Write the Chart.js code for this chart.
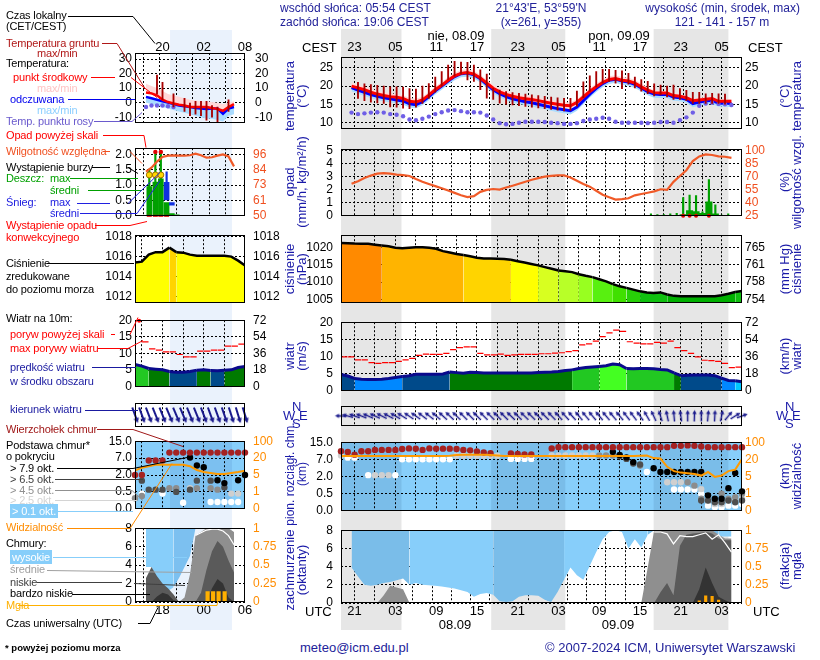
<!DOCTYPE html>
<html>
<head>
<meta charset="utf-8">
<title>Meteorogram ICM</title>
<script src="https://cdn.jsdelivr.net/npm/chart.js@4.4.1/dist/chart.umd.min.js"></script>
<style>
  body { margin:0; width:820px; height:660px; position:relative; overflow:hidden; background:#fff;
         font-family:"Liberation Sans", Arial, sans-serif; }
  canvas { position:absolute; }
  .t { position:absolute; white-space:nowrap; font-size:12px; line-height:14px; }
  .lg { font-size:11px; letter-spacing:-0.15px; }
  .rot { position:absolute; white-space:nowrap; font-size:13px; line-height:12px; color:#1a1aa8;
         text-align:center; transform:translate(-50%,-50%) rotate(-90deg); }
  #lines { position:absolute; left:0; top:0; z-index:5; }
</style>
</head>
<body>
<script>
// ================= TIME AXIS =================
// hour index 0 = 19 UTC 07.09, 59 = 06 UTC 10.09
const hours = Array.from({length: 60}, (_, i) => i);
const gridHours = [2,5,8,11,14,17,20,23,26,29,32,35,38,41,44,47,50,53,56];
const labelHours = [2,8,14,20,26,32,38,44,50,56];
const nights = [[0, 8.9], [22.1, 33], [46, 57]];

// mini legend charts: hour index 0 = 14 UTC
const miniHours = Array.from({length: 17}, (_, i) => i);
const miniGrid = [1,4,7,10,13];
const miniLabels = [4,10,16];
const miniNights = [[5.1, 14.1]];

// ================= TEMPERATURE =================
const tempMid = [20.0,19.5,19.0,18.3,17.8,17.4,17.1,16.9,16.6,15.8,
  15.6,16.2,17.5,19.0,20.2,21.6,22.8,23.5,23.7,23.3,
  22.2,20.8,19.4,18.4,17.7,17.2,16.8,16.5,16.3,16.0,
  15.6,15.3,15.0,14.7,14.6,15.5,17.0,18.5,19.8,21.0,
  21.8,22.1,21.6,21.4,20.8,19.8,18.9,18.2,18.1,18.1,
  17.4,17.2,16.8,16.0,16.2,16.4,16.6,15.8,15.8,15.8];
const tempHi = [21.0,20.4,19.9,19.2,18.7,18.3,18.0,17.8,17.5,16.7,
  16.5,17.1,18.4,19.9,21.1,22.5,23.7,24.4,24.6,24.2,
  23.1,21.7,20.3,19.3,18.6,18.1,17.7,17.4,17.2,16.9,
  16.5,16.2,15.9,15.6,15.5,16.4,17.9,19.4,20.7,21.9,
  22.7,23.0,22.5,22.3,21.7,20.7,19.6,18.8,18.7,18.6,
  17.9,17.7,17.3,16.6,16.8,17.0,17.1,16.3,16.3,16.3];
const tempLo = [19.2,18.7,18.2,17.5,17.0,16.6,16.3,16.1,15.8,15.0,
  14.8,15.4,16.7,18.2,19.4,20.8,22.0,22.7,22.9,22.5,
  21.4,20.0,18.6,17.6,16.9,16.4,16.0,15.7,15.5,15.2,
  14.8,14.5,14.2,13.9,13.8,14.7,16.2,17.7,19.0,20.2,
  21.0,21.3,20.8,20.6,20.0,19.0,18.1,17.4,17.3,17.3,
  16.6,16.4,16.0,15.2,15.4,15.6,15.8,15.0,15.0,15.0];
const tempFeel = [19.6,18.9,18.3,17.7,17.2,16.8,16.5,16.2,15.9,15.1,
  14.9,15.7,17.1,18.7,20.0,21.4,22.6,23.4,23.6,23.1,
  22.0,20.5,19.0,17.9,17.1,16.5,16.1,15.7,15.4,15.0,
  14.6,14.2,13.8,13.5,13.2,14.2,16.0,17.8,19.4,20.7,
  21.6,21.9,21.4,21.1,20.5,19.5,18.5,17.8,17.7,17.7,
  17.0,16.8,16.4,15.2,15.6,15.9,16.1,15.3,15.3,15.2];
const feelLo = [18.6,17.9,17.3,16.7,16.2,15.8,15.5,15.2,14.9,14.1,
  13.9,14.7,16.1,17.7,19.0,20.4,21.6,22.4,22.6,22.1,
  21.0,19.5,18.0,16.9,16.1,15.5,15.1,14.7,14.4,14.0,
  13.6,13.2,12.8,12.5,12.2,13.2,15.0,16.8,18.4,19.7,
  20.6,20.9,20.4,20.1,19.5,18.5,17.5,16.8,16.7,16.7,
  16.0,15.8,15.4,14.2,14.6,14.9,15.1,14.3,14.3,14.2];
const dewPoint = [12.7,12.3,12.5,12.7,12.8,12.7,12.3,12.1,11.7,10.8,
  10.6,11.0,11.6,12.3,12.8,13.3,13.4,13.1,12.8,12.8,
  12.7,11.9,10.8,9.8,9.5,9.6,9.9,10.2,10.2,10.2,
  10.1,9.9,9.8,9.6,9.6,9.8,10.4,10.8,11.0,11.3,
  11.0,10.2,9.9,9.9,9.9,9.9,9.8,9.9,10.1,10.1,
  9.9,10.6,11.4,12.7,14.6,15.2,15.4,15.1,15.0,14.8];
const groundMax = [null,21.0,20.6,20.4,20.2,20.0,19.8,19.8,19.7,19.3,
  19.2,20.0,20.7,22.5,24.0,25.8,26.8,26.6,26.5,25.8,
  24.5,23.3,19.4,18.9,18.5,18.2,18.0,17.8,17.6,17.4,
  17.2,17.0,16.8,16.6,16.6,18.6,21.2,22.8,24.0,24.6,
  24.6,24.3,24.2,23.5,22.5,21.8,21.3,20.6,20.3,20.0,
  20.3,19.3,18.8,18.3,18.3,17.9,18.0,17.9,17.8,null];
const groundMin = [null,16.6,16.0,15.6,15.4,15.2,14.3,14.2,13.9,13.8,
  14.2,15.2,16.6,18.3,20.0,21.8,22.7,23.3,21.7,21.3,
  19.0,16.7,16.3,15.3,15.0,14.8,14.6,14.4,14.2,14.0,
  13.8,13.6,13.4,13.2,13.3,14.5,16.8,18.5,19.8,20.8,
  21.3,20.8,19.3,20.5,19.5,18.6,17.9,17.3,17.6,17.0,
  16.3,16.3,16.0,15.2,15.2,15.2,15.2,15.2,15.0,null];

// ================= PRECIPITATION / HUMIDITY =================
const humidity = [62,65,68.7,71.5,73.7,74.3,73.8,72.7,72,71,
  67.5,64.3,61.8,59.3,56.8,54.3,51.5,48.7,46.7,47.7,
  52.7,55,56,55.3,57.7,59.8,62,64.3,66.7,68.5,
  70.3,71.2,71.7,71.7,69.3,65.5,61.7,58.7,54,49.3,
  46.5,43.7,44.3,45.3,48.7,50.2,51.7,53.3,55.7,55,
  64.3,71,77.7,88.3,93.7,96,95.3,93.7,93.3,92];
const rainX    = [46.5,47.5,48.5,49.5,50.5,51.5,52.5,53.5,54.5,55.5,56.5,57.5,58.5];
const rainMean = [0,0,0,0,0.02,0.1,0.4,0.33,0.2,1.07,0.15,0.02,0];
const rainMax  = [0.15,0.1,0.1,0.15,0.2,1.4,1.6,1.55,0.3,2.8,0.85,0.05,0.15];
const convective = [0,0,0,0,0,1,1,1,0,1,0,0,0];

// ================= PRESSURE =================
const pressure = [1021.25,1021.2,1021.1,1021.05,1021.0,1020.75,1020.5,1020.3,1019.9,1019.75,
  1019.9,1020.0,1020.0,1019.9,1019.6,1018.9,1018.5,1018.1,1017.8,1017.4,
  1017.0,1016.8,1016.8,1016.7,1016.6,1016.4,1016.0,1015.6,1015.2,1014.8,
  1014.3,1013.8,1013.3,1013.1,1012.85,1012.25,1011.8,1011.4,1010.8,1010.2,
  1009.4,1008.75,1008.3,1007.8,1007.3,1007.0,1006.8,1007.0,1006.4,1006.0,
  1005.9,1005.9,1005.9,1005.9,1005.9,1005.9,1006.2,1006.6,1007.1,1007.4];

// ================= WIND =================
const windMean = [4.8,4.3,3.6,3.4,3.3,3.3,3.4,3.6,3.9,4.2,
  4.4,4.8,4.8,4.8,4.8,4.9,5.5,5.3,5.1,5.4,
  5.3,5.2,5.2,5.2,5.2,5.2,5.2,5.2,5.2,5.3,
  5.4,5.5,5.65,5.9,6.1,6.5,6.8,6.95,7.1,7.3,
  7.8,7.6,6.5,6.4,6.5,6.5,6.4,6.2,6.1,5.2,
  4.4,4.5,4.6,4.6,4.6,4.4,3.7,3.0,2.9,2.6];
const windGust = [9.9,9.9,9.0,9.0,8.2,8.0,8.2,8.2,8.6,9.0,
  9.45,10.3,10.7,10.6,10.6,10.9,12.0,12.6,12.8,12.8,
  10.9,10.5,10.5,10.7,10.3,10.5,10.6,10.6,10.6,10.8,
  10.8,11.0,11.1,11.4,11.7,13.4,13.7,14.5,15.8,16.9,
  17.7,17.3,14.3,13.9,13.7,13.7,14.1,13.9,14.5,12.6,
  11.7,10.9,9.9,8.9,8.8,8.6,8.0,6.75,6.9,null];
// direction the arrow points, degrees clockwise from north
const windDir = [-88,-75,-70,-68,-66,-65,-63,-62,-60,-58,
  -56,-55,-53,-52,-50,-48,-47,-46,-45,-45,
  -45,-45,-45,-45,-45,-46,-46,-46,-45,-45,
  -45,-44,-43,-42,-42,-40,-40,-40,-40,-40,
  -40,-40,-38,-37,-35,-30,-25,-18,-12,-5,
  -8,0,2,0,5,3,12,40,58,70];

// ================= CLOUD BASE / VISIBILITY (km) =================
const baseStops = [0, 0.5, 2, 7, 15];
const visStops = [0, 1, 5, 20, 100];
const cbTop = [10.8,10.4,9.2,10.8,10.8,11.4,11.4,11.4,11.4,11.8,
  12.1,12.0,11.4,12.1,12.0,12.0,12.0,11.8,11.4,11.2,
  10.7,10.2,9.9,null,null,9.8,9.5,9.3,9.3,null,
  null,12.1,12.7,12.7,12.7,12.7,12.7,12.7,12.7,12.7,
  12.7,12.7,12.7,12.7,12.7,12.7,12.7,12.7,12.7,13.3,
  13.3,13.5,13.3,13.0,12.7,12.7,12.7,12.7,12.7,12.7];
const cbWhite = [null,7.8,7.8,null,2.4,null,null,null,2.4,7.0,
  7.0,7.0,7.0,7.0,7.0,7.0,7.0,null,null,null,
  null,null,null,null,null,7.2,7.2,7.2,7.2,null,
  null,null,null,null,null,null,null,null,null,null,
  null,null,null,null,null,3.3,null,null,null,0.86,
  0.86,0.86,0.86,0.5,0.15,0.1,0.1,0.15,0.15,0.2];
const cbLight = [8.8,null,null,null,null,2.4,2.4,2.4,null,null,
  null,null,null,null,null,null,null,8.7,8.7,8.7,
  8.7,8.7,8.7,8.7,null,null,null,null,null,null,
  null,8.8,8.8,8.8,8.8,8.8,8.8,8.8,null,null,
  null,null,null,null,null,null,null,null,1.5,1.5,
  1.5,null,null,0.9,0.3,0.2,0.2,0.3,0.3,0.35];
const cbGrey = [null,null,null,null,null,null,null,null,null,null,
  null,null,null,null,null,null,null,null,null,null,
  null,null,null,null,null,null,null,null,null,null,
  null,null,null,null,null,null,null,null,8.8,8.8,
  8.8,null,null,null,5.2,null,null,null,null,null,
  null,1.5,1.2,0.35,null,null,0.5,0.35,0.4,0.5];
const cbDark = [null,null,null,null,null,null,null,null,null,null,
  null,null,null,null,null,null,null,null,null,null,
  null,null,null,null,null,null,null,null,null,null,
  null,null,null,null,null,null,null,null,null,null,
  null,8.5,7.2,5.8,5.5,null,null,null,null,null,
  null,null,null,0.3,0.3,0.25,0.25,0.3,0.25,0.3];
const cbBlack = [null,null,null,null,null,null,null,null,null,null,
  null,null,null,null,null,null,null,null,null,null,
  null,null,null,null,null,null,null,null,null,null,
  null,null,null,null,null,null,null,null,null,null,
  10.5,9.0,7.9,6.2,null,null,4.4,3.3,3.3,3.3,
  3.3,3.3,3.3,3.3,0.45,0.35,0.35,0.98,3.0,0.7];
const visibility = [36,36,36,36,36,36,36,36,36,36,
  36,36,36,36,36,36,37,40,41,41,
  41,41,40,38,36,36,36,36,36,36,
  36,36,36,36,36,36,36,36,36,36,
  36,36,36,36,37,38,26,24,13.5,9.7,
  8.4,7.8,7.1,5.8,8.9,4.9,5.8,9.7,11,21];

// ================= CLOUD COVER (octas) / FOG =================
const highEdge = [3.9,2.9,2.0,1.9,2.0,2.2,2.3,2.5,2.7,2.0,
  2.2,2.0,1.95,1.9,1.8,1.7,1.6,1.4,1.2,0.7,
  1.0,1.1,0.9,0.2,0.1,0.2,0.7,0.85,0.85,0.8,
  0.35,0.1,1.2,2.55,3.9,3.06,2.55,4.1,5.6,7.0,
  7.8,8,7.8,6.0,7.0,6.1,7.5,8,8,8,
  8,8,8,8,8,7.5,7.3,7.3,7.3,7.3];
const midCloud = [0,0,0,0,0,0.85,1.9,1.7,1.5,0,
  0,0,0,0,0,0,0,0,0,0,
  0,0,0,0,0,0,0,0,0,0,
  0,0,0,0,0,0,0,0,0,0,
  0,0,0,0,0,0,3.9,8,8,8,
  8,8,8,8,8,8,8,7.5,7.1,7.1];
const lowCloud = [0,0,0,0,0,0,0,0,0,0,
  0,0,0,0,0,0,0,0,0,0,
  0,0,0,0,0,0,0,0,0,0,
  0,0,0,0,0,0,0,0,0,0,
  0,0,0,0,0,0,0,0,1.2,2.2,
  0.85,6.3,7.5,7.65,7.7,7.8,7.65,7.1,6.9,6.9];
const veryLowCloud = [0,0,0,0,0,0,0,0,0,0,
  0,0,0,0,0,0,0,0,0,0,
  0,0,0,0,0,0,0,0,0,0,
  0,0,0,0,0,0,0,0,0,0,
  0,0,0,0,0,0,0,0,0,0,
  0,0,0,0,1.5,3.9,2.2,0.7,0.3,0];
const cloudTotal = [null,null,null,null,null,null,null,null,null,null,
  null,null,null,null,null,null,null,null,null,null,
  null,null,null,null,null,null,null,null,null,null,
  null,null,null,null,null,null,null,null,null,null,
  null,null,null,null,null,null,null,7.8,7.8,7.6,
  6.5,7.4,7.3,7.3,7.5,7.7,7.0,7.5,6.6,5.6];
const fogX = [54,55,56,57];
const fog = [0.03,0.1,0.09,0.04];

// ================= MINI LEGEND DATA =================
const miniTemp   = [7,6.4,5,2,0.4,-0.6,-1.5,-2,-3,-3,-3,-3,-3.6,-4.4,-5.6,-3,-1];
const miniTempHi = [13,11.5,10,8,6,5,4,3,2,1.5,1,1,0.5,0,-1,0,1];
const miniTempLo = [6,5.5,4,1.5,0,-1,-2,-2.5,-3.5,-3.5,-3.5,-3.5,-4,-5,-6,-3.5,-1.5];
const miniFeel   = [4,3,2,1,0,-1,-2,-2.4,-3,-3.6,-4,-4.4,-4,-4,-7.6,-4,-3];
const miniFeelLo = [0,-1,-2,-3,-4,-5,-6,-7,-8,-9,-10,-11,-11,-12,-13,-9,-8];
const miniDew    = [-3,-2,-2,-2,-2.5,-3,null,null,null,null,null,null,null,null,null,null,null];
const miniGroundMax = [null,null,19,14,null,6,null,3,0,1,1,1,-2,-3,null,2,null];
const miniGroundMin = [null,null,6,2,null,-3,null,-6,-9,-8,-9,-12,-10,-13,null,-6,null];
const miniHum = [83,86,90.6,94,95,95.3,95,95,95.3,96.5,95.3,93.5,93.8,95,96,94.5,87];
const miniRainX = [0.6,1.7,2.7,3.75,4.7,5.6];
const miniRainMean = [0.95,1.1,1.2,0.43,0.07,0.03];
const miniRainMaxX = [0.6,1.7,2.7];
const miniRainMax = [1.52,2.08,2.08];
const miniStormY = 1.33;
const miniSnowX = [3.75,4.7];
const miniSnowLo = [0.52,0.35];
const miniSnowHi = [1.09,0.43];
const miniPres = [1015.4,1015.5,1016.2,1016.45,1016.45,1016.9,1016.45,1016.4,1016.2,1016.1,1016.1,1016.1,1016.1,1016.1,1016,1015.6,1015.1];
const miniWind = [6.7,6.2,5.5,5.3,5.1,4.6,4.4,4.4,4.6,5.0,5.1,4.9,4.8,5.0,5.1,5.8,6.1];
const miniGust = [null,13.5,11.4,11.0,10.5,10.5,9.7,9.0,9.0,10.7,10.7,11.0,11.0,12.2,12.2,12.8,null];
const miniDir = [160,160,159,158,158,157,157,157,158,158,159,160,160,161,162,163,163];
const miniCbTop   = [2.0,2.0,6.3,6.3,6.3,9.6,9.6,9.6,9.6,9.6,9.6,9.6,9.6,9.6,9.6,9.6,9.6];
const miniCbBlack = [null,null,null,null,null,null,null,null,7.3,4.8,4.3,null,1.53,1.28,null,1.53,2.0];
const miniCbDark  = [null,1.5,0.7,0.7,0.7,null,0.5,null,0.7,1.5,null,1.5,null,0.9,null,null,null];
const miniCbGrey  = [0.31,0.38,null,null,null,0.83,0.83,null,null,0.83,null,0.83,0.7,null,null,null,null];
const miniCbLight = [null,null,null,null,null,null,null,null,0.83,null,null,null,null,null,0.45,0.45,null];
const miniCbWhite = [null,0.45,null,null,0.45,null,null,0.18,null,null,null,0.2,0.2,0.2,0.2,0.2,null];
const miniVis = [8.9,11.5,12.8,14.1,14.1,14.1,14.1,14.1,12.8,9.4,7.6,6.8,5.8,5.8,6.8,7.6,8.9];
const miniHigh = [3.8,3.8,2.5,1.8,1.2,1.6,2.6,3.8,5,8,8,8,8,8,8,8,8];
const miniMid  = [0,0,0,0,0,0,0,0.5,3,7.2,7.6,8,8,8,8,8,7.6];
const miniLow  = [2.6,3.8,2.8,2.0,1.5,0.8,0,0,0,0,1,3.5,5.5,6.6,6.0,4.5,3.2];
const miniVeryLow = [0,0,0.6,1.0,0.8,0.2,0,0,0,0,0,0,1.5,2.5,2,0.5,0];
const miniTotal = [null,null,null,null,null,null,null,null,null,7.2,7.5,7.8,7.9,7.9,7.7,7.2,6.2];
const miniFogX = [11.2,12.2,13.2,14.3];
const miniFog = [0.14,0.14,0.14,0.14];

// ================= HELPERS =================
Chart.defaults.font.family = '"Liberation Sans", Arial, sans-serif';
Chart.defaults.font.size = 12;
Chart.defaults.color = '#000';

const pad2 = n => String(n).padStart(2, '0');
const MAIN = { x: 280, w: 530, lw: 61, rw: 68, min: 0, max: 59, grid: gridHours,
  fmt: { top: v => pad2((v + 21) % 24), bottom: v => pad2((v + 19) % 24) } };
const MINI = { x: 75, w: 205, lw: 60, rw: 35, min: 0, max: 16, grid: miniGrid,
  fmt: { top: v => pad2((v + 16) % 24), bottom: v => pad2((v + 14) % 24) } };
const LABEL_BOX = 20;

const pts = (xs, ys, f) => xs.map((x, i) => ({ x, y: ys[i] == null ? null : (f ? f(ys[i]) : ys[i]) }));
const isNight = (x, ranges) => ranges.some(([s, e]) => x >= s && x < e);
function toPos(v, stops) {
  for (let i = 1; i < stops.length; i++)
    if (v <= stops[i]) return i - 1 + (v - stops[i - 1]) / (stops[i] - stops[i - 1]);
  return stops.length - 1;
}
function presColor(p) {
  if (p >= 1020.6) return '#ff8a00';
  if (p >= 1018) return '#ffb400';
  if (p >= 1016.5) return '#ffd400';
  if (p >= 1015) return '#ffff00';
  if (p >= 1013.5) return '#d8ff20';
  if (p >= 1012.5) return '#b8ff28';
  if (p >= 1011.5) return '#98ff20';
  if (p >= 1010) return '#58f010';
  if (p >= 1008.5) return '#40e000';
  if (p >= 1007.5) return '#28d008';
  if (p >= 1006.8) return '#10c010';
  return '#00b000';
}
function windColor(v) {
  if (v < 3) return '#00c8ff';
  if (v < 4) return '#0088ff';
  if (v < 5) return '#004a8a';
  if (v < 6) return '#007a00';
  if (v < 7) return '#22c822';
  return '#44ff22';
}

// ================= PLUGINS =================
const bandsPlugin = {
  id: 'bands',
  beforeDraw(chart, args, opts) {
    if (!opts || (!opts.ranges && !opts.day)) return;
    const { ctx, chartArea: a, scales: { x } } = chart;
    ctx.save();
    if (opts.day) { ctx.fillStyle = opts.day; ctx.fillRect(a.left, a.top, a.width, a.height); }
    if (opts.ranges) {
      ctx.fillStyle = opts.night;
      opts.ranges.forEach(([s, e]) => {
        const x0 = x.getPixelForValue(s), x1 = x.getPixelForValue(e);
        ctx.fillRect(x0, a.top, x1 - x0, a.height);
      });
    }
    ctx.restore();
  }
};
const boxPlugin = {
  id: 'box',
  afterDraw(chart) {
    const { ctx, chartArea: a } = chart;
    ctx.save();
    ctx.strokeStyle = '#000'; ctx.lineWidth = 1;
    ctx.strokeRect(Math.round(a.left) + 0.5, Math.round(a.top) + 0.5, Math.round(a.width) - 1, Math.round(a.height) - 1);
    ctx.restore();
  }
};
Chart.register(bandsPlugin, boxPlugin);

function yAxis(c, pos, w, fs) {
  return {
    type: 'linear', position: pos, min: c.min, max: c.max, z: 1,
    afterBuildTicks: s => { s.ticks = c.ticks.map(v => ({ value: v })); },
    afterFit: s => { s.width = w; },
    ticks: { padding: c.pad ?? (pos === 'left' ? 8 : 3), color: c.color || '#000', font: { size: fs },
             autoSkip: false, callback: c.fmt || (v => String(v)) },
    grid: { display: pos === 'left' && c.grid !== false, color: '#000', drawTicks: false },
    border: { display: false, dash: [2, 2] }
  };
}
function timeAxis(pos, g, vals, pad, fs) {
  return {
    type: 'linear', position: pos, min: g.min, max: g.max,
    afterBuildTicks: s => { s.ticks = vals.map(v => ({ value: v })); },
    afterFit: s => { s.height = LABEL_BOX; },
    ticks: { padding: pad, autoSkip: false, maxRotation: 0, font: { size: fs }, callback: v => g.fmt[pos](v) },
    grid: { display: false, drawTicks: false }, border: { display: false }
  };
}
function panel(o) {
  const padT = o.padT ?? 10, padB = o.padB ?? 10, g = o.g, fs = o.fs || 12;
  const cv = document.createElement('canvas');
  cv.width = g.w; cv.height = o.h + padT + padB;
  cv.style.left = g.x + 'px'; cv.style.top = (o.top - padT) + 'px';
  document.body.appendChild(cv);
  const scales = {
    x: { type: 'linear', min: g.min, max: g.max, z: 1,
         afterBuildTicks: s => { s.ticks = g.grid.map(v => ({ value: v })); },
         afterFit: s => { s.height = 0; },
         ticks: { display: false },
         grid: { color: '#000', drawTicks: false },
         border: { display: false, dash: [2, 2] } },
    y: yAxis(o.y, 'left', g.lw, fs),
    y2: yAxis(o.y2 || { min: o.y.min, max: o.y.max, ticks: [o.y.min], fmt: () => '' }, 'right', g.rw, fs)
  };
  if (o.topLabels) scales.xt = timeAxis('top', g, o.topLabels, o.topPad, 13);
  if (o.bottomLabels) scales.xb = timeAxis('bottom', g, o.bottomLabels, o.botPad, 13);
  const layTop = padT - (o.topLabels ? LABEL_BOX : 0);
  const layBottom = padB - (o.bottomLabels ? LABEL_BOX : 0);
  return new Chart(cv, {
    type: 'line',
    data: { datasets: o.datasets },
    options: {
      responsive: false, animation: false, events: [],
      layout: { padding: { top: layTop, bottom: layBottom, left: 0, right: 0 } },
      scales,
      plugins: { legend: { display: false }, tooltip: { enabled: false }, bands: o.bands || {} },
      elements: { point: { radius: 0 }, line: { tension: 0 } }
    }
  });
}
function bgChart(g, top, h, ranges, color) {
  const cv = document.createElement('canvas');
  cv.width = g.w; cv.height = h;
  cv.style.left = g.x + 'px'; cv.style.top = top + 'px';
  document.body.appendChild(cv);
  new Chart(cv, {
    type: 'line', data: { datasets: [{ data: [] }] },
    options: { responsive: false, animation: false, events: [],
      layout: { padding: { left: g.lw, right: g.rw, top: 0, bottom: 0 } },
      scales: { x: { type: 'linear', display: false, min: g.min, max: g.max }, y: { display: false } },
      plugins: { legend: { display: false }, tooltip: { enabled: false }, box: false,
                 bands: { ranges, night: color } } }
  });
}

// dataset builders
const lineDs = (xs, ys, color, width, extra) => Object.assign(
  { data: pts(xs, ys), borderColor: color, borderWidth: width, pointRadius: 0 }, extra || {});
const ghostDs = (xs, ys, extra) => Object.assign(
  { data: pts(xs, ys), borderColor: 'transparent', borderWidth: 0, pointRadius: 0 }, extra || {});
const dotDs = (xs, ys, color, r, f, order) => ({
  data: pts(xs, ys, f), showLine: false, pointRadius: r, pointBackgroundColor: color,
  pointBorderWidth: 0, order, clip: false });
const floatBars = (xs, lo, hi, color, extra) => Object.assign({
  type: 'bar', grouped: false, backgroundColor: color,
  data: xs.map((x, i) => ({ x, y: [lo[i], hi[i]] })).filter(d => d.y[0] != null) }, extra || {});

function arrowImg(len, color, lw, head) {
  const c = document.createElement('canvas');
  c.width = len + 2; c.height = len + 2;
  const g = c.getContext('2d'), cx = c.width / 2;
  g.strokeStyle = color; g.fillStyle = color; g.lineWidth = lw;
  g.beginPath(); g.moveTo(cx, c.height - 1); g.lineTo(cx, head); g.stroke();
  g.beginPath(); g.moveTo(cx, 0.5); g.lineTo(cx - head * 0.55, head + 0.5); g.lineTo(cx + head * 0.55, head + 0.5);
  g.closePath(); g.fill();
  return c;
}

// ================= BACKGROUND NIGHT BANDS =================
bgChart(MAIN, 29, 601, nights, '#e6e6e6');
bgChart(MINI, 30, 600, miniNights, '#eaf2fc');

// ================= MAIN PANELS =================
panel({ g: MAIN, top: 57, h: 79, padT: 57, padB: 8,
  y: { min: 8.25, max: 28, ticks: [10, 15, 20, 25] },
  y2: { min: 8.25, max: 28, ticks: [10, 15, 20, 25] },
  topLabels: labelHours, topPad: 2,
  datasets: [
    floatBars(hours, groundMin, groundMax, '#a80000', { barThickness: 1.2, order: 0 }),
    lineDs(hours, tempMid, '#ff0000', 3, { order: 1 }),
    dotDs(hours, dewPoint, '#6f5fe6', 2.2, null, 1.5),
    lineDs(hours, tempFeel, '#0000ff', 3, { fill: { target: 4 }, backgroundColor: '#aadcff', order: 2 }),
    ghostDs(hours, feelLo, { order: 3 }),
    ghostDs(hours, tempHi, { fill: { target: 6 }, backgroundColor: '#ffd8d8', order: 5 }),
    ghostDs(hours, tempLo, { order: 6 })
  ] });

panel({ g: MAIN, top: 144, h: 77,
  y: { min: 0, max: 5.133, ticks: [0, 1, 2, 3, 4, 5] },
  y2: { min: 25, max: 102, ticks: [25, 40, 55, 70, 85, 100], color: '#f05020' },
  datasets: [
    lineDs(hours, humidity, '#f05a28', 2.2, { yAxisID: 'y2', order: 0 }),
    { type: 'bar', data: pts(rainX, rainMean), backgroundColor: '#00a000', barPercentage: 1,
      categoryPercentage: 1, grouped: false, order: 2 },
    { type: 'bar', data: pts(rainX, rainMax), backgroundColor: '#00a000', barThickness: 1.5, grouped: false, order: 1 },
    dotDs(rainX.filter((x, i) => convective[i]), rainX.filter((x, i) => convective[i]).map(() => 0), '#e00000', 2, null, -1)
  ] });

panel({ g: MAIN, top: 230, h: 78,
  y: { min: 1004, max: 1023.5, ticks: [1005, 1010, 1015, 1020] },
  y2: { min: 1004, max: 1023.5, ticks: [1005, 1010, 1015, 1020], fmt: v => String(Math.round(v * 0.750062)) },
  datasets: [
    lineDs(hours, pressure, '#000', 2.5, { fill: 'start', backgroundColor: '#ffff00',
      segment: { backgroundColor: c => presColor(c.p0.parsed.y) } })
  ] });

panel({ g: MAIN, top: 317, h: 79,
  y: { min: 0, max: 20, ticks: [0, 5, 10, 15, 20] },
  y2: { min: 0, max: 72, ticks: [0, 18, 36, 54, 72] },
  datasets: [
    { data: pts(hours.map(h => h + 0.5), windGust), showLine: false, pointStyle: 'line', pointRadius: 3.1,
      pointBorderColor: '#ff0000', pointBorderWidth: 1.2, order: 0 },
    lineDs(hours, windMean, '#0a0a8c', 3, { fill: 'start', backgroundColor: '#004a8a', order: 1,
      segment: { backgroundColor: c => windColor(c.p0.parsed.y) } })
  ] });

const arrowMain = arrowImg(11, '#1a1a8c', 1.5, 4);
panel({ g: MAIN, top: 401, h: 30,
  y: { min: -1, max: 1, ticks: [0], fmt: () => '', grid: false },
  datasets: [
    { data: hours.map(h => ({ x: h, y: 0 })), showLine: false, pointStyle: arrowMain, pointRadius: 3,
      pointRotation: c => windDir[c.dataIndex], clip: false }
  ] });

const baseLabels = ['0.0', '0.5', '2.0', '7.0', '15.0'];
const visLabels = ['0', '1', '5', '20', '100'];
const kmPos = v => toPos(v, baseStops), visPos = v => toPos(v, visStops);
panel({ g: MAIN, top: 437, h: 79,
  y: { min: 0, max: 4, ticks: [0, 1, 2, 3, 4], fmt: v => baseLabels[v] },
  y2: { min: 0, max: 4, ticks: [0, 1, 2, 3, 4], fmt: v => visLabels[v], color: '#ff8c00' },
  bands: { day: '#87cefa', ranges: nights, night: '#7abde9' },
  datasets: [
    lineDs(hours, visibility.map(visPos), '#ff9a00', 2, { order: 0 }),
    dotDs(hours, cbTop, '#a52222', 3.2, kmPos, 1),
    dotDs(hours, cbBlack, '#000000', 3.2, kmPos, 2),
    dotDs(hours, cbDark, '#4e4e4e', 3.2, kmPos, 3),
    dotDs(hours, cbGrey, '#8c8c8c', 3.2, kmPos, 4),
    dotDs(hours, cbLight, '#cfcfcf', 3.2, kmPos, 5),
    dotDs(hours, cbWhite, '#ffffff', 3.2, kmPos, 6)
  ] });

panel({ g: MAIN, top: 525, h: 78, padB: 22,
  y: { min: 0, max: 8, ticks: [0, 2, 4, 6, 8] },
  y2: { min: 0, max: 1, ticks: [0, 0.25, 0.5, 0.75, 1], color: '#ff8c00' },
  bottomLabels: labelHours, botPad: 1,
  datasets: [
    lineDs(hours, cloudTotal, '#ffffff', 1.2, { order: 0 }),
    { type: 'bar', yAxisID: 'y2', data: pts(fogX, fog), backgroundColor: '#ffa500', barThickness: 2.5, grouped: false, order: 1 },
    ghostDs(hours, veryLowCloud, { fill: 'origin', backgroundColor: '#333333', order: 2 }),
    ghostDs(hours, lowCloud, { fill: 'origin', backgroundColor: '#5a5a5a', order: 3 }),
    ghostDs(hours, midCloud, { fill: 'origin', backgroundColor: '#8f8f8f', order: 4 }),
    ghostDs(hours, highEdge, { fill: 'end', backgroundColor: '#87cefa', order: 5,
      segment: { backgroundColor: c => isNight((c.p0.parsed.x + c.p1.parsed.x) / 2, nights) ? '#7abde9' : '#87cefa' } })
  ] });

// ================= MINI LEGEND PANELS =================
panel({ g: MINI, top: 53, h: 81, padT: 53, padB: 6,
  y: { min: -13.85, max: 34.15, ticks: [-10, 0, 10, 20, 30], pad: 3 },
  y2: { min: -13.85, max: 34.15, ticks: [-10, 0, 10, 20, 30], pad: 10 },
  topLabels: miniLabels, topPad: -2,
  datasets: [
    floatBars(miniHours, miniGroundMin, miniGroundMax, '#a80000', { barThickness: 1.2, order: 0 }),
    lineDs(miniHours, miniTemp, '#ff0000', 2.5, { order: 1 }),
    dotDs(miniHours, miniDew, '#6f5fe6', 2.2, null, 1.5),
    lineDs(miniHours, miniFeel, '#0000ff', 2.5, { fill: { target: 4 }, backgroundColor: '#aadcff', order: 2 }),
    ghostDs(miniHours, miniFeelLo, { order: 3 }),
    ghostDs(miniHours, miniTempHi, { fill: { target: 6 }, backgroundColor: '#ffd8d8', order: 5 }),
    ghostDs(miniHours, miniTempLo, { order: 6 })
  ] });

panel({ g: MINI, top: 143, h: 78,
  y: { min: 0, max: 2.2, ticks: [0, 0.5, 1, 1.5, 2], fmt: v => v.toFixed(1), pad: 3 },
  y2: { min: 50, max: 100.6, ticks: [50, 61.5, 73, 84.5, 96], fmt: v => String(Math.floor(v)), color: '#f05020', pad: 8 },
  datasets: [
    lineDs(miniHours, miniHum, '#f05a28', 2.2, { yAxisID: 'y2', order: 0 }),
    { data: pts(miniRainMaxX, miniRainMaxX.map(() => miniStormY)), showLine: false, pointRadius: 3,
      pointBackgroundColor: '#ffd700', pointBorderColor: '#a07000', pointBorderWidth: 1, order: -1 },
    dotDs(miniRainMaxX.slice(1), miniRainMax.slice(1), '#e00000', 2.2, null, -2),
    floatBars(miniSnowX, miniSnowLo, miniSnowHi, '#1030e0', { barPercentage: 1, categoryPercentage: 1, order: 1 }),
    floatBars([3.75], [1.09], [1.43], '#1030e0', { barThickness: 1.5, order: 1 }),
    { type: 'bar', data: pts(miniRainX, miniRainMean), backgroundColor: '#00a000', barPercentage: 1,
      categoryPercentage: 1, grouped: false, order: 3 },
    { type: 'bar', data: pts(miniRainMaxX, miniRainMax), backgroundColor: '#00a000', barThickness: 1.5, grouped: false, order: 2 },
    { data: miniRainX.slice(0, 4).map(x => ({ x, y: 0 })), showLine: false, pointStyle: 'line', pointRadius: 2.5,
      pointBorderColor: '#e00000', pointBorderWidth: 2, order: -3, clip: false }
  ] });

panel({ g: MINI, top: 230, h: 78,
  y: { min: 1011.37, max: 1018.15, ticks: [1012, 1014, 1016, 1018], pad: 3 },
  y2: { min: 1011.37, max: 1018.15, ticks: [1012, 1014, 1016, 1018], pad: 8 },
  datasets: [
    lineDs(miniHours, miniPres, '#000', 2.5, { fill: 'start', backgroundColor: '#ffff00',
      segment: { backgroundColor: c => presColor(c.p0.parsed.y) } })
  ] });

panel({ g: MINI, top: 315, h: 77,
  y: { min: 0, max: 20, ticks: [0, 5, 10, 15, 20], pad: 3 },
  y2: { min: 0, max: 72, ticks: [0, 18, 36, 54, 72], pad: 8 },
  datasets: [
    { data: pts(miniHours.map(h => h + 0.5), miniGust), showLine: false, pointStyle: 'line', pointRadius: 3.2,
      pointBorderColor: '#ff0000', pointBorderWidth: 1.2, order: 0 },
    dotDs([0.6], [19.8], '#ff0000', 2, null, -1),
    lineDs(miniHours, miniWind, '#0a0a8c', 3, { fill: 'start', backgroundColor: '#007a00', order: 1,
      segment: { backgroundColor: c => windColor(c.p0.parsed.y) } })
  ] });

const arrowMini = arrowImg(16, '#1a1a8c', 2, 5);
panel({ g: MINI, top: 398, h: 34,
  y: { min: -1, max: 1, ticks: [0], fmt: () => '', grid: false },
  datasets: [
    { data: miniHours.map(h => ({ x: h, y: 0 })), showLine: false, pointStyle: arrowMini, pointRadius: 3,
      pointRotation: c => miniDir[c.dataIndex], clip: false }
  ] });

panel({ g: MINI, top: 436, h: 78,
  y: { min: 0, max: 4, ticks: [0, 1, 2, 3, 4], fmt: v => baseLabels[v], pad: 3 },
  y2: { min: 0, max: 4, ticks: [0, 1, 2, 3, 4], fmt: v => visLabels[v], color: '#ff8c00', pad: 8 },
  bands: { day: '#87cefa', ranges: miniNights, night: '#7cc0f0' },
  datasets: [
    lineDs(miniHours, miniVis.map(visPos), '#ff9a00', 2, { order: 0 }),
    dotDs(miniHours, miniCbTop, '#a52222', 3.2, kmPos, 1),
    dotDs(miniHours, miniCbBlack, '#000000', 3.2, kmPos, 2),
    dotDs(miniHours, miniCbDark, '#4e4e4e', 3.2, kmPos, 3),
    dotDs(miniHours, miniCbGrey, '#8c8c8c', 3.2, kmPos, 4),
    dotDs(miniHours, miniCbLight, '#cfcfcf', 3.2, kmPos, 5),
    dotDs(miniHours, miniCbWhite, '#ffffff', 3.2, kmPos, 6)
  ] });

panel({ g: MINI, top: 523, h: 79, padB: 22,
  y: { min: 0, max: 8, ticks: [0, 2, 4, 6, 8], pad: 3 },
  y2: { min: 0, max: 1, ticks: [0, 0.25, 0.5, 0.75, 1], color: '#ff8c00', pad: 8 },
  bottomLabels: miniLabels, botPad: 1,
  datasets: [
    lineDs(miniHours, miniTotal, '#ffffff', 1.2, { order: 0 }),
    { type: 'bar', yAxisID: 'y2', data: pts(miniFogX, miniFog), backgroundColor: '#ffb000', barThickness: 3.5, grouped: false, order: 1 },
    ghostDs(miniHours, miniVeryLow, { fill: 'origin', backgroundColor: '#333333', order: 2 }),
    ghostDs(miniHours, miniLow, { fill: 'origin', backgroundColor: '#5a5a5a', order: 3 }),
    ghostDs(miniHours, miniMid, { fill: 'origin', backgroundColor: '#8f8f8f', order: 4 }),
    ghostDs(miniHours, miniHigh, { fill: 'end', backgroundColor: '#87cefa', order: 5,
      segment: { backgroundColor: c => isNight((c.p0.parsed.x + c.p1.parsed.x) / 2, miniNights) ? '#7cc0f0' : '#87cefa' } })
  ] });

// ================= TEXTS =================
function txt(x, yc, s, color, cls, extra) {
  const d = document.createElement('div');
  d.className = 't' + (cls ? ' ' + cls : '');
  d.style.left = x + 'px'; d.style.top = (yc - 7) + 'px';
  d.style.color = color || '#000';
  if (extra) Object.assign(d.style, extra);
  d.textContent = s;
  document.body.appendChild(d);
  return d;
}
function rot(cx, cy, lines, extra) {
  const d = document.createElement('div');
  d.className = 'rot';
  d.style.left = cx + 'px'; d.style.top = cy + 'px';
  if (extra) Object.assign(d.style, extra);
  lines.forEach((l, i) => { if (i) d.appendChild(document.createElement('br')); d.appendChild(document.createTextNode(l)); });
  document.body.appendChild(d);
}
const BLUE = '#22229a';
const center = { transform: 'translateX(-50%)' };
const right = { transform: 'translateX(-100%)' };

txt(280, 8, 'wschód słońca: 05:54 CEST', BLUE);
txt(280, 22, 'zachód słońca: 19:06 CEST', BLUE);
txt(541, 8, "21°43'E, 53°59'N", BLUE, '', center);
txt(541, 22, '(x=261,  y=355)', BLUE, '', center);
txt(800, 8, 'wysokość (min, środek, max)', BLUE, '', right);
txt(722, 22, '121 - 141 - 157 m', BLUE, '', center);
txt(456, 36, 'nie, 08.09', '#000', '', Object.assign({ fontSize: '13px' }, center));
txt(619, 36, 'pon, 09.09', '#000', '', Object.assign({ fontSize: '13px' }, center));
txt(302, 48, 'CEST', '#000', '', { fontSize: '13px' });
txt(748, 48, 'CEST', '#000', '', { fontSize: '13px' });
txt(305, 612, 'UTC', '#000', '', { fontSize: '13px' });
txt(753, 612, 'UTC', '#000', '', { fontSize: '13px' });
txt(455, 625, '08.09', '#000', '', Object.assign({ fontSize: '13px' }, center));
txt(618, 625, '09.09', '#000', '', Object.assign({ fontSize: '13px' }, center));
txt(300, 648, 'meteo@icm.edu.pl', BLUE, '', { fontSize: '13px' });
txt(545, 648, '© 2007-2024 ICM, Uniwersytet Warszawski', BLUE, '', { fontSize: '13px' });

rot(296, 96, ['temperatura', '(°C)']);
rot(791, 96, ['(°C)', 'temperatura']);
rot(296, 182, ['opad', '(mm/h, kg/m²/h)']);
rot(791, 182, ['(%)', 'wilgotność wzgl.']);
rot(296, 269, ['ciśnienie', '(hPa)']);
rot(791, 269, ['(mm Hg)', 'ciśnienie']);
rot(296, 356, ['wiatr', '(m/s)']);
rot(791, 356, ['(km/h)', 'wiatr']);
rot(296, 474, ['pion. rozciągł. chm.', '(km)'], { fontSize: '12px' });
rot(791, 476, ['(km)', 'widzialność']);
rot(296, 570, ['zachmurzenie', '(oktanty)']);
rot(791, 566, ['(frakcja)', 'mgła']);

// wind rose letters
[[283, 416, 'W'], [292, 407, 'N'], [299, 416, 'E'], [292, 424, 'S'],
 [776, 416, 'W'], [785, 407, 'N'], [792, 416, 'E'], [785, 424, 'S']].forEach(([x, y, s]) =>
  txt(x, y, s, '#1a1aa8', '', { fontSize: '13px' }));

// legend labels
const legend = [
  [6, 15, 'Czas lokalny', '#000'], [6, 26, '(CET/CEST)', '#000'],
  [6, 43, 'Temperatura gruntu', '#b01818'], [37, 53, 'max/min', '#b01818'],
  [6, 63, 'Temperatura:', '#000'], [13, 77, 'punkt środkowy', '#ff0000'],
  [37, 88, 'max/min', '#ffc4c4'], [10, 99, 'odczuwana', '#0000ee'],
  [37, 110, 'max/min', '#8ccfff'], [6, 121, 'Temp. punktu rosy', '#6a5acd'],
  [6, 135, 'Opad powyżej skali', '#ff0000'], [6, 151, 'Wilgotność względna', '#f05020'],
  [6, 167, 'Wystąpienie burzy', '#000'], [6, 178, 'Deszcz:', '#00a000'], [50, 178, 'max', '#00a000'],
  [50, 190, 'średni', '#00a000'], [6, 202, 'Śnieg:', '#2020e0'], [50, 202, 'max', '#2020e0'],
  [50, 213, 'średni', '#2020e0'], [6, 225, 'Wystąpienie opadu', '#ff0000'], [6, 237, 'konwekcyjnego', '#ff0000'],
  [6, 263, 'Ciśnienie', '#000'], [6, 276, 'zredukowane', '#000'], [6, 289, 'do poziomu morza', '#000'],
  [6, 318, 'Wiatr na 10m:', '#000'], [10, 334, 'poryw powyżej skali', '#ff0000'],
  [10, 348, 'max porywy wiatru', '#ff0000'], [10, 367, 'prędkość wiatru', '#1a1aa0'],
  [10, 381, 'w środku obszaru', '#1a1aa0'], [10, 409, 'kierunek wiatru', '#1a1aa0'],
  [6, 429, 'Wierzchołek chmur', '#a01818'], [6, 445, 'Podstawa chmur*', '#000'], [6, 456, 'o pokryciu', '#000'],
  [10, 468, '> 7.9 okt.', '#000'], [10, 479, '> 6.5 okt.', '#404040'], [10, 490, '> 4.5 okt.', '#909090'],
  [10, 500, '> 2.5 okt.', '#d4d4d4'], [6, 527, 'Widzialność', '#ff8c00'], [6, 543, 'Chmury:', '#000'],
  [10, 569, 'średnie', '#a0a0a0'], [10, 582, 'niskie', '#404040'], [10, 593, 'bardzo niskie', '#000'],
  [6, 605, 'Mgła', '#ffb000'], [6, 623, 'Czas uniwersalny (UTC)', '#000']
];
legend.forEach(([x, y, s, c]) => txt(x, y, s, c, 'lg'));
txt(10, 511, '> 0.1 okt.', '#fff', 'lg', { background: '#87cefa', padding: '0 2px' });
txt(10, 557, 'wysokie', '#fff', 'lg', { background: '#87cefa', padding: '0 2px' });
txt(5, 648, '* powyżej poziomu morza', '#000', '', { fontSize: '9.5px', fontWeight: 'bold' });

// leader lines of the legend
const leaders = [
  ['#000', [[68,16],[133,16],[155,43]]], ['#b01818', [[102,43],[117,43],[145,88]]],
  ['#ff0000', [[91,77],[115,77]]], ['#ff0000', [[131,77],[157,97]]],
  ['#0000ee', [[68,99],[135,99]]], ['#6a5acd', [[94,121],[132,121],[142,112]]],
  ['#ff0000', [[103,135],[144,135],[146,147]]], ['#f05020', [[103,151],[110,151]]], ['#f05020', [[130,151],[142,163]]],
  ['#000', [[92,167],[110,167]]], ['#000', [[128,167],[138,173]]],
  ['#00a000', [[70,178],[138,178]]], ['#00a000', [[88,190],[142,190]]],
  ['#2020e0', [[77,203],[110,203]]], ['#2020e0', [[128,203],[160,172]]], ['#2020e0', [[80,213],[137,213],[160,180]]],
  ['#ff0000', [[95,225],[130,225],[147,221]]], ['#000', [[47,263],[134,263]]],
  ['#ff0000', [[111,334],[115,334]]], ['#ff0000', [[130,334],[138,317]]], ['#ff0000', [[98,348],[128,348],[143,340]]],
  ['#1a1aa0', [[92,367],[136,367]]], ['#1a1aa0', [[85,410],[138,410]]],
  ['#a01818', [[97,429],[133,429],[183,446]]], ['#000', [[57,468],[133,468],[192,456]]],
  ['#404040', [[55,479],[143,479]]], ['#909090', [[55,490],[132,490],[143,500]]], ['#d4d4d4', [[55,500],[137,500]]],
  ['#87cefa', [[57,511],[133,511]]], ['#ff8c00', [[67,528],[130,528],[172,463]]],
  ['#87cefa', [[53,557],[187,557]]], ['#a0a0a0', [[47,570],[192,572]]],
  ['#404040', [[37,582],[122,582]]], ['#404040', [[134,583],[185,585]]], ['#000', [[72,594],[150,594]]],
  ['#ffb000', [[18,605],[217,605],[219,593]]], ['#000', [[138,623],[150,623],[158,607]]]
];
const NS = 'http://www.w3.org/2000/svg';
const svg = document.createElementNS(NS, 'svg');
svg.setAttribute('id', 'lines'); svg.setAttribute('width', '820'); svg.setAttribute('height', '660');
leaders.forEach(([c, p]) => {
  const pl = document.createElementNS(NS, 'polyline');
  pl.setAttribute('points', p.map(q => q[0] + ',' + (q[1] + 0.5)).join(' '));
  pl.setAttribute('fill', 'none'); pl.setAttribute('stroke', c); pl.setAttribute('stroke-width', '1');
  svg.appendChild(pl);
});
document.body.appendChild(svg);
</script>
</body>
</html>
